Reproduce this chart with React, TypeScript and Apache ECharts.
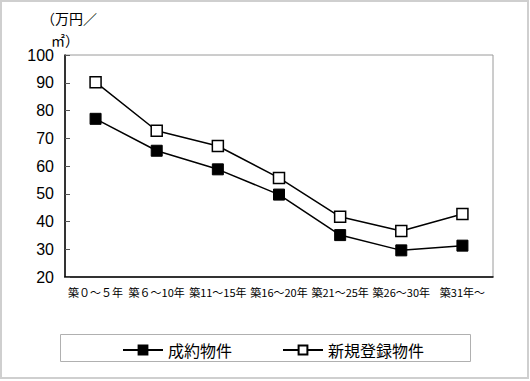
import React, { useEffect, useRef } from "react";
import * as echarts from "echarts";

const categories = ["築０～５年", "築６～10年", "築11～15年", "築16～20年", "築21～25年", "築26～30年", "築31年～"];
const contracted = [77, 65.5, 58.8, 49.7, 35.1, 29.6, 31.3];
const newListed = [90.2, 72.7, 67.2, 55.7, 41.7, 36.6, 42.7];
const seriesNames = ["成約物件", "新規登録物件"];
const yMin = 20;
const yMax = 100;
const yStep = 10;

const JP = "'Noto Sans CJK JP', sans-serif";
const NUM = "'Liberation Sans', Arial, sans-serif";

export default function App() {
  const ref = useRef<HTMLDivElement>(null);
  useEffect(() => {
    if (!ref.current) return;
    const chart = echarts.init(ref.current, null, { renderer: "svg" });
    chart.setOption({
      animation: false,
      backgroundColor: "#fff",
      grid: {
        left: 65,
        right: 37,
        top: 55,
        bottom: 104,
        show: true,
        borderColor: "#9a9a9a",
        borderWidth: 1,
      },
      graphic: [
        {
          type: "rect",
          shape: { x: 1, y: 1, width: 527, height: 377 },
          style: { fill: "none", stroke: "#cfcfcf", lineWidth: 2 },
          silent: true,
        },
        {
          type: "rect",
          shape: { x: 60.5, y: 334.5, width: 410, height: 27 },
          style: { fill: "none", stroke: "#b0b0b0", lineWidth: 1 },
          silent: true,
        },
        {
          type: "text",
          x: 41,
          y: 11,
          style: { text: "（万円／", font: `14px ${JP}`, fill: "#000" },
        },
        {
          type: "text",
          x: 51,
          y: 33,
          style: { text: "㎡）", font: `14px ${JP}`, fill: "#000" },
        },
      ],
      legend: {
        left: 117,
        top: 337,
        itemWidth: 40,
        itemHeight: 11,
        itemGap: 50,
        textStyle: { fontFamily: JP, fontSize: 16, color: "#000" },
        data: seriesNames,
      },
      xAxis: {
        type: "category",
        data: categories,
        boundaryGap: true,
        axisLine: { lineStyle: { color: "#000", width: 1.5 } },
        axisTick: { inside: true, length: 5, lineStyle: { color: "#555" } },
        axisLabel: {
          interval: 0,
          fontFamily: JP,
          fontSize: 11,
          color: "#000",
          margin: 9,
        },
      },
      yAxis: {
        type: "value",
        min: yMin,
        max: yMax,
        interval: yStep,
        splitLine: { show: false },
        axisLine: { show: true, lineStyle: { color: "#000", width: 1.5 } },
        axisTick: { show: true, inside: true, length: 5, lineStyle: { color: "#555" } },
        axisLabel: { fontFamily: NUM, fontSize: 16, color: "#000", margin: 11 },
      },
      series: [
        {
          name: seriesNames[0],
          type: "line",
          data: contracted,
          symbol: "rect",
          symbolSize: 11,
          lineStyle: { color: "#000", width: 1.5 },
          itemStyle: { color: "#000", borderColor: "#000", borderWidth: 1 },
        },
        {
          name: seriesNames[1],
          type: "line",
          data: newListed,
          symbol: "rect",
          symbolSize: 11,
          lineStyle: { color: "#000", width: 1.5 },
          itemStyle: { color: "#fff", borderColor: "#000", borderWidth: 1.5 },
        },
      ],
    });
    return () => chart.dispose();
  }, []);
  return (
    <div
      ref={ref}
      style={{ position: "fixed", left: 0, top: 0, width: 530, height: 381 }}
    />
  );
}
